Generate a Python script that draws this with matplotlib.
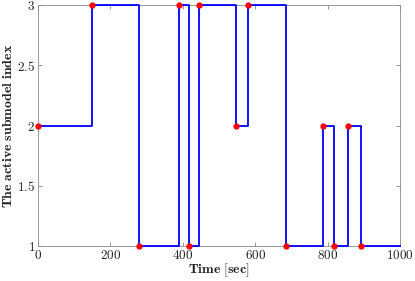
import numpy as np
import matplotlib
matplotlib.use("Agg")
import matplotlib.pyplot as plt
from matplotlib.ticker import FuncFormatter

plt.rcParams['mathtext.fontset'] = 'cm'

# switching instants and the submodel index that becomes active there
t_switch = [0, 149, 279, 389, 417, 445, 547, 580, 685, 787, 818, 856, 892]
idx = [2, 3, 1, 3, 1, 3, 2, 3, 1, 2, 1, 2, 1]
t_end = 1000

fig = plt.figure(figsize=(4.15, 2.81), dpi=100)
ax = fig.add_axes([0.0916, 0.1246, 0.8724, 0.8574])

ax.step(t_switch + [t_end], idx + [idx[-1]], where='post', color='#0000ff', lw=1.3,
        zorder=2, clip_on=False)
ax.plot(t_switch, idx, 'o', color='#ff0000', ms=3.5, zorder=3, clip_on=False)

ax.set_xlim(0, 1000)
ax.set_ylim(1, 3)
ax.set_xticks(np.arange(0, 1001, 200))
ax.set_yticks([1, 1.5, 2, 2.5, 3])

fmt = FuncFormatter(lambda v, p: r'$\mathbf{%g}$' % v)
ax.xaxis.set_major_formatter(fmt)
ax.yaxis.set_major_formatter(fmt)

ax.tick_params(direction='in', top=True, right=True, length=3, width=0.6,
               colors='#888888', labelcolor='#222222', labelsize=9.5, pad=2)
for s in ax.spines.values():
    s.set_color('#999999')
    s.set_linewidth(0.7)
    s.set_zorder(1)

ax.set_xlabel(r'$\mathbf{Time\ [sec]}$', fontsize=10, labelpad=0, color='#222222')
ax.set_ylabel(r'$\mathbf{The\ active\ submodel\ index}$', fontsize=10, labelpad=2, color='#222222')
ax.yaxis.set_label_coords(-0.064, 0.5)

fig.savefig('out.png', dpi=100)
